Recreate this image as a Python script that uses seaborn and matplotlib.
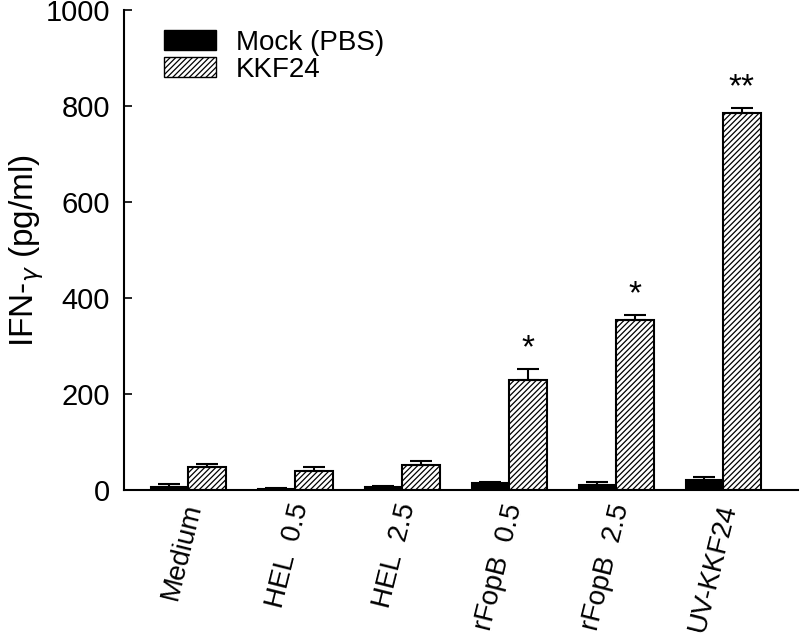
import matplotlib
matplotlib.use("Agg")
import matplotlib.pyplot as plt
import matplotlib.transforms as mtransforms
import seaborn as sns
import pandas as pd
import numpy as np
from matplotlib.patches import Patch

categories = ["Medium", "HEL  0.5", "HEL  2.5", "rFopB  0.5", "rFopB  2.5", "UV-KKF24"]
mock_vals = [7, 3, 6, 14, 11, 20]
mock_err = [5, 1, 3, 3, 5, 7]
kkf_vals = [48, 40, 52, 229, 355, 786]
kkf_err = [7, 7, 8, 24, 9, 11]
stars = ["", "", "", "*", "*", "**"]
series = ["Mock (PBS)", "KKF24"]

df = pd.DataFrame({
    "cat": categories * 2,
    "val": mock_vals + kkf_vals,
    "grp": [series[0]] * 6 + [series[1]] * 6,
})

sns.set_style("ticks")
plt.rcParams['font.family'] = ['Liberation Sans', 'DejaVu Sans']
plt.rcParams['hatch.linewidth'] = 0.9
plt.rcParams['text.color'] = 'black'
plt.rcParams['axes.labelcolor'] = 'black'
plt.rcParams['xtick.color'] = 'black'
plt.rcParams['ytick.color'] = 'black'
plt.rcParams['axes.edgecolor'] = 'black'

fig = plt.figure(figsize=(8, 6.37), dpi=100)
ax = fig.add_axes([0.155, 0.2308, 0.8425, 0.7532])

sns.barplot(data=df, x="cat", y="val", hue="grp", order=categories,
            hue_order=series, palette={series[0]: "black", series[1]: "white"},
            width=0.7, edgecolor="black", linewidth=1.5, errorbar=None,
            ax=ax, legend=False, saturation=1)

bars = [p for p in ax.patches]
mock_bars = bars[:6]
kkf_bars = bars[6:12]
for p in kkf_bars:
    p.set_hatch("//////")

for blist, vals, errs in [(mock_bars, mock_vals, mock_err), (kkf_bars, kkf_vals, kkf_err)]:
    xs = [p.get_x() + p.get_width() / 2 for p in blist]
    ax.errorbar(xs, vals, yerr=[np.zeros(len(errs)), errs], fmt="none",
                ecolor="black", elinewidth=1.5, capsize=8, capthick=1.5, zorder=1)

for p, v, e, s in zip(kkf_bars, kkf_vals, kkf_err, stars):
    if s:
        ax.text(p.get_x() + p.get_width() / 2, v + e + 10, s, ha="center",
                va="bottom", fontsize=24)

ax.set_ylim(0, 1000)
ax.set_xlim(-0.6, 5.7)
ax.set_yticks([0, 200, 400, 600, 800, 1000])
ax.tick_params(axis="y", direction="in", length=6, width=1.2, labelsize=21, pad=10)
ax.tick_params(axis="x", direction="in", length=0, labelsize=20, pad=10)
ax.set_xticks(range(len(categories)))
ax.set_xticklabels(categories, rotation=76, ha="right", va="center",
                   rotation_mode="anchor")
offset = mtransforms.ScaledTranslation(4 / 72, 0, fig.dpi_scale_trans)
for lbl in ax.get_xticklabels():
    lbl.set_transform(lbl.get_transform() + offset)
ax.set_xlabel("")
ax.set_ylabel(r"IFN-$_{\gamma}$ (pg/ml)", fontsize=24)
ax.yaxis.set_label_coords(-0.115, 0.5)
sns.despine(ax=ax)
for sp in ["left", "bottom"]:
    ax.spines[sp].set_linewidth(1.5)

handles = [Patch(facecolor="black", edgecolor="black", label=series[0]),
           Patch(facecolor="white", edgecolor="black", hatch="//////", label=series[1])]
ax.legend(handles=handles, loc="upper left", bbox_to_anchor=(0.03, 1.0),
          frameon=False, fontsize=20, handlelength=1.9, handleheight=0.72,
          handletextpad=0.7, labelspacing=0.05, borderaxespad=0.3)

fig.savefig("out.png", dpi=100)
